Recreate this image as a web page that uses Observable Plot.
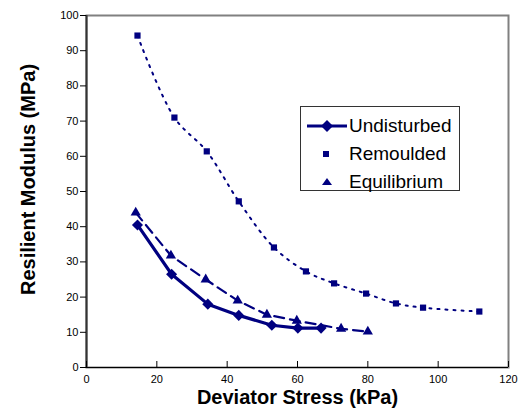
<!DOCTYPE html>
<html>
<head>
<meta charset="utf-8">
<script src="https://cdn.jsdelivr.net/npm/d3@7"></script>
<script src="https://cdn.jsdelivr.net/npm/@observablehq/plot@0.6"></script>
<style>
  body { margin: 0; background: #fff; font-family: "Liberation Sans", Arial, sans-serif; }
  #wrap { position: relative; width: 526px; height: 412px; }
  #legend { position: absolute; left: 300px; top: 106px; width: 160px; height: 85px;
            border: 1px solid #333; background: #fff; box-sizing: border-box; }
  .row { position: absolute; left: 0; height: 24px; display: flex; align-items: center; font-size: 19px; color: #000; }
  .row svg { width: 48px; height: 24px; }
</style>
</head>
<body>
<div id="wrap"></div>
<script>
// ---- data ----
const stressUndisturbed = [14.5, 24.2, 34.5, 43.3, 52.7, 60.1, 66.7];
const modUndisturbed    = [40.5, 26.5, 18.0, 14.8, 12.0, 11.2, 11.2];

const stressRemoulded = [14.5, 25.0, 34.2, 43.3, 53.3, 62.4, 70.4, 79.5, 88.0, 95.7, 111.7];
const modRemoulded    = [94.3, 71.0, 61.4, 47.2, 34.1, 27.3, 23.9, 21.0, 18.2, 17.0, 15.9];

const stressEquilibrium = [14.0, 24.0, 33.9, 43.0, 51.3, 59.8, 72.4, 80.0];
const modEquilibrium    = [44.0, 31.8, 25.0, 19.0, 15.0, 13.3, 11.0, 10.2];

const xTicks = [0, 20, 40, 60, 80, 100, 120];
const yTicks = [0, 10, 20, 30, 40, 50, 60, 70, 80, 90, 100];

const seriesNames = ["Undisturbed", "Remoulded", "Equilibrium"];

const toRows = (xs, ys) => xs.map((x, i) => ({x, y: ys[i]}));
const U = toRows(stressUndisturbed, modUndisturbed);
const R = toRows(stressRemoulded, modRemoulded);
const E = toRows(stressEquilibrium, modEquilibrium);

const navy = "#000080";

const chart = Plot.plot({
  width: 526,
  height: 412,
  marginLeft: 86,
  marginRight: 18,
  marginTop: 15,
  marginBottom: 45,
  style: {fontFamily: "'Liberation Sans', Arial, sans-serif", fontSize: "11px", color: "#000", background: "#fff"},
  x: {domain: [0, 120]},
  y: {domain: [0, 100]},
  marks: [
    Plot.frame({stroke: "#808080", strokeWidth: 2}),
    Plot.ruleX([0], {stroke: "#333", strokeWidth: 2}),
    Plot.ruleY([0], {stroke: "#000", strokeWidth: 1.2}),
    Plot.tickX(xTicks, {x: d => d, insetTop: 346, stroke: "#000"}),
    Plot.axisY({ticks: yTicks, tickSize: 6, tickPadding: 2, label: null, fontSize: 11}),
    Plot.axisX({ticks: xTicks, tickSize: 0, tickPadding: 8, label: null, fontSize: 11}),
    Plot.text(["Deviator Stress (kPa)"], {frameAnchor: "bottom", dy: 36, fontSize: 20, fontWeight: "bold", text: d => d}),
    Plot.text(["Resilient Modulus (MPa)"], {frameAnchor: "left", textAnchor: "middle", dx: -58, dy: -12, rotate: -90, fontSize: 20, fontWeight: "bold", text: d => d}),
    // Remoulded: dotted smooth curve + squares
    Plot.line(R, {x: "x", y: "y", stroke: navy, strokeWidth: 2, strokeDasharray: "2,6", curve: "catmull-rom"}),
    Plot.dot(R, {x: "x", y: "y", symbol: "square", r: 3.5, fill: navy, stroke: "none"}),
    // Equilibrium: dashed line + triangles
    Plot.line(E, {x: "x", y: "y", stroke: navy, strokeWidth: 2.2, strokeDasharray: "10,6"}),
    Plot.dot(E, {x: "x", y: "y", symbol: "triangle", r: 3.8, fill: navy, stroke: "none"}),
    // Undisturbed: solid thick line + diamonds
    Plot.line(U, {x: "x", y: "y", stroke: navy, strokeWidth: 3.2}),
    Plot.dot(U, {x: "x", y: "y", symbol: "diamond2", r: 5, fill: navy, stroke: "none"})
  ]
});

const wrap = document.getElementById("wrap");
wrap.appendChild(chart);

// legend (HTML overlay)
const legend = document.createElement("div");
legend.id = "legend";
const symbols = [
  `<line x1="6" y1="12" x2="46" y2="12" stroke="${navy}" stroke-width="3"/><path d="M26,6 L32,12 L26,18 L20,12 Z" fill="${navy}"/>`,
  `<rect x="22" y="9" width="6" height="6" fill="${navy}"/>`,
  `<path d="M26,8 L31,15 L21,15 Z" fill="${navy}"/>`
];
const tops = [7, 35, 63];
seriesNames.forEach((name, i) => {
  const row = document.createElement("div");
  row.className = "row";
  row.style.top = tops[i] + "px";
  row.innerHTML = `<svg viewBox="0 0 48 24">${symbols[i]}</svg><span>${name}</span>`;
  legend.appendChild(row);
});
wrap.appendChild(legend);
</script>
</body>
</html>
